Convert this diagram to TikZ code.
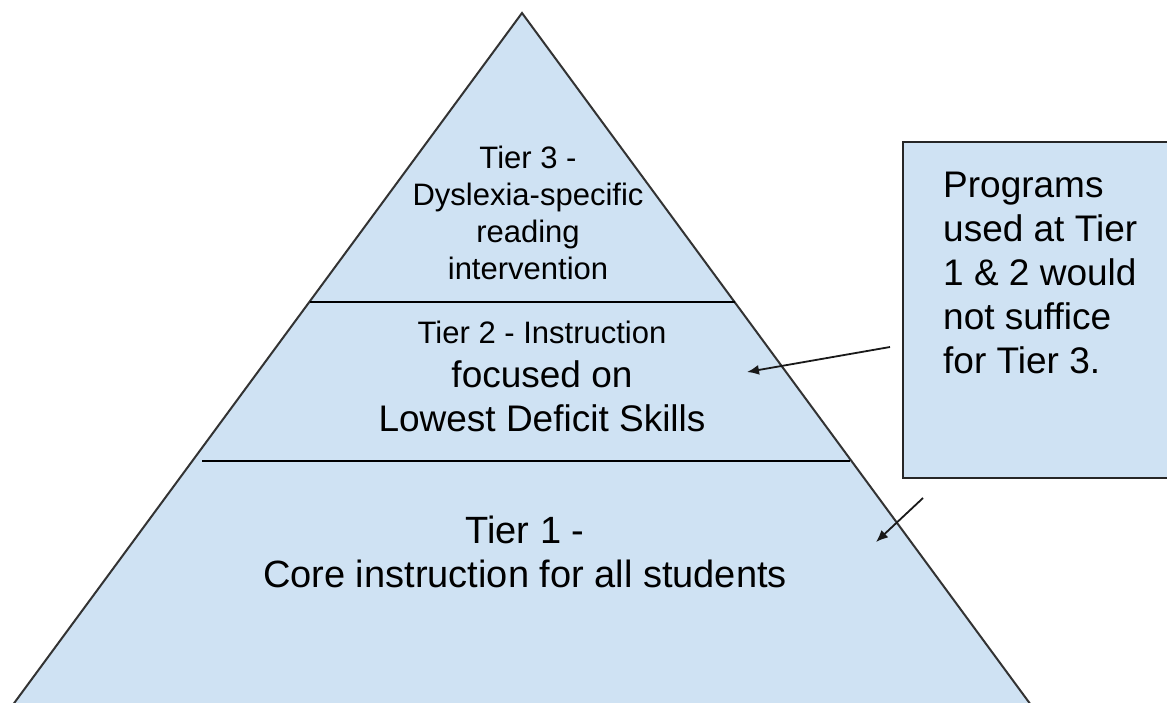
\documentclass[tikz,border=0pt]{standalone}
\usepackage{fontspec}
\setmainfont{Liberation Sans}
\usetikzlibrary{arrows.meta, positioning, calc}

\definecolor{tierblue}{HTML}{CFE2F3}

\begin{document}
\begin{tikzpicture}[x=1pt, y=-1pt]
    % --- Style Definitions ---
    \tikzset{
        pyramid style/.style={
            draw=black!80,
            line width=2pt,
            fill=tierblue,
            line join=miter
        },
        divider style/.style={
            draw=black,
            line width=1.6pt
        },
        note box/.style={
            draw=black!85,
            line width=2pt,
            fill=tierblue
        },
        tier text/.style={align=center, inner sep=0pt, anchor=base},
        note text/.style={align=left, inner sep=0pt, anchor=base west,
            font=\fontsize{37}{44}\selectfont},
        pointer arrow/.style={
            -{Latex[length=12pt, width=10pt]},
            line width=1.8pt,
            black!90
        }
    }

    \useasboundingbox (0,0) rectangle (1167,702);
    \clip (0,0) rectangle (1167,702);

    % ==========================================
    % PYRAMID
    % ==========================================
    \coordinate (apex) at (522,13);
    \coordinate (base_left) at (1.7,720);
    \coordinate (base_right) at (1042,720);
    \draw[pyramid style] (apex) -- (base_right) -- (base_left) -- cycle;

    % Dividers between the tiers
    \coordinate (div_top_l) at (310,302);
    \coordinate (div_top_r) at (735,302);
    \coordinate (div_low_l) at (202,461);
    \coordinate (div_low_r) at (850,461);
    \draw[divider style] (div_top_l) -- (div_top_r);
    \draw[divider style] (div_low_l) -- (div_low_r);

    % Tier labels (anchored at the baseline of the last line)
    \node[tier text, font=\fontsize{31}{37}\selectfont] (tier_three) at (528,279)
        {Tier 3 -\\Dyslexia-specific\\reading\\intervention};
    \node[tier text, font=\fontsize{37}{44}\selectfont] (tier_two) at (542,431)
        {{\fontsize{31}{44}\selectfont Tier 2 - Instruction}\\focused on\\Lowest Deficit Skills};
    \node[tier text, font=\fontsize{38}{44}\selectfont] (tier_one) at (525,587)
        {Tier 1 -\\Core instruction for all students};

    % ==========================================
    % NOTE BOX
    % ==========================================
    \draw[note box] (903,142) rectangle (1185,478);
    \node[note text] (note) at (943,373)
        {Programs\\used at Tier\\1 \& 2 would\\not suffice\\for Tier 3.};

    % Pointers into the pyramid
    \coordinate (ptr_one_from) at (890,347);
    \coordinate (ptr_one_to) at (747,372);
    \coordinate (ptr_two_from) at (923,498);
    \coordinate (ptr_two_to) at (876,542);
    \draw[pointer arrow] (ptr_one_from) -- (ptr_one_to);
    \draw[pointer arrow] (ptr_two_from) -- (ptr_two_to);

\end{tikzpicture}
\end{document}
